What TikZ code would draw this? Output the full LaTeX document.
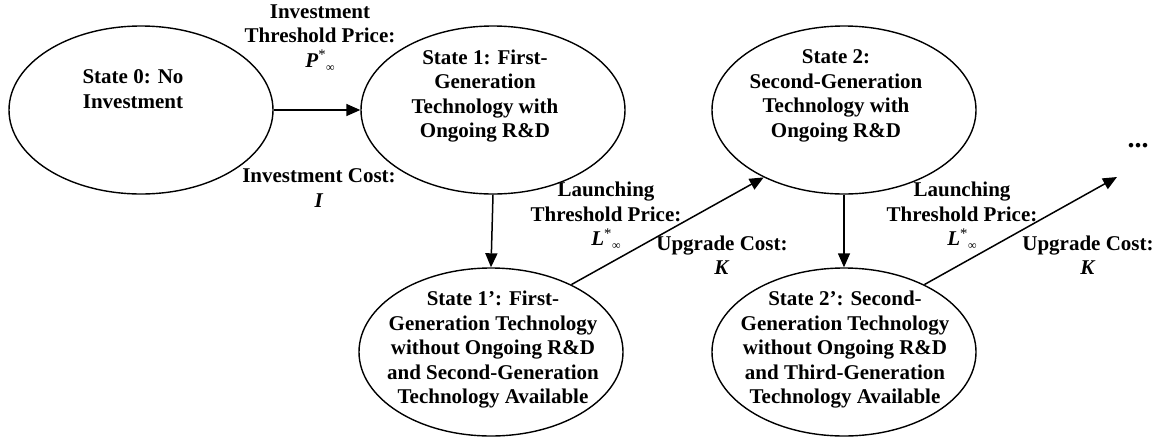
\documentclass[tikz,border=0pt]{standalone}
\usepackage{fontspec}
\setmainfont{Liberation Serif}
\usetikzlibrary{shapes.geometric,arrows.meta}
\newcommand{\supinf}[1]{\textbf{\textit{#1}}\textsuperscript{\mdseries *}\raisebox{-0.45ex}{\fontsize{12}{12}\selectfont\mdseries ∞}}
\begin{document}
\begin{tikzpicture}[x=1pt,y=-1pt,
  state/.style={draw,line width=1.4pt,ellipse,minimum width=264pt,minimum height=168pt,inner sep=0pt},
  txt/.style={font=\bfseries\fontsize{21}{24.5}\selectfont,align=center,inner sep=0pt},
  arr/.style={line width=1.5pt,-{Triangle[length=14pt,width=12pt]}},
  ]
\useasboundingbox (0,0) rectangle (1165,437);
% states
\node[state] (S0) at (141,110) {};
\node[state] (S1) at (493,110) {};
\node[state] (S2) at (844,110) {};
\node[state] (S1p) at (491,352) {};
\node[state] (S2p) at (844,352) {};
% state texts
\node[txt] (T0) at (133,89) {State 0: No\\Investment};
\node[txt] (T1) at (485,96) {State 1: First-\\Generation\\Technology with\\Ongoing R\&D};
\node[txt] (T2) at (836,96) {State 2:\\Second-Generation\\Technology with\\Ongoing R\&D};
\node[txt] (T1p) at (493,350) {State 1’: First-\\Generation Technology\\without Ongoing R\&D\\and Second-Generation\\Technology Available};
\node[txt] (T2p) at (845,350) {State 2’: Second-\\Generation Technology\\without Ongoing R\&D\\and Third-Generation\\Technology Available};
% connectors
\coordinate (more) at (1117,177);
\draw[arr] (S0) -- (S1);
\draw[arr] (S1.south) -- (S1p.north);
\draw[arr] (S2.south) -- (S2p.north);
\draw[arr] (S1p.40) -- (S2.220);
\draw[arr] (S2p.40) -- (more);
% labels
\node[txt] (L01a) at (320,38) {Investment\\Threshold Price:\\\supinf{P}};
\node[txt] (L01b) at (319,188) {Investment Cost:\\\textit{I}};
\node[txt] (L12a) at (606,216) {Launching\\Threshold Price:\\\supinf{L}};
\node[txt] (L12b) at (722,255) {Upgrade Cost:\\\textit{K}};
\node[txt] (L23a) at (962,216) {Launching\\Threshold Price:\\\supinf{L}};
\node[txt] (L23b) at (1088,255) {Upgrade Cost:\\\textit{K}};
\node[txt,font=\bfseries\fontsize{28}{28}\selectfont] (dots) at (1138,146) {...};
\end{tikzpicture}
\end{document}
